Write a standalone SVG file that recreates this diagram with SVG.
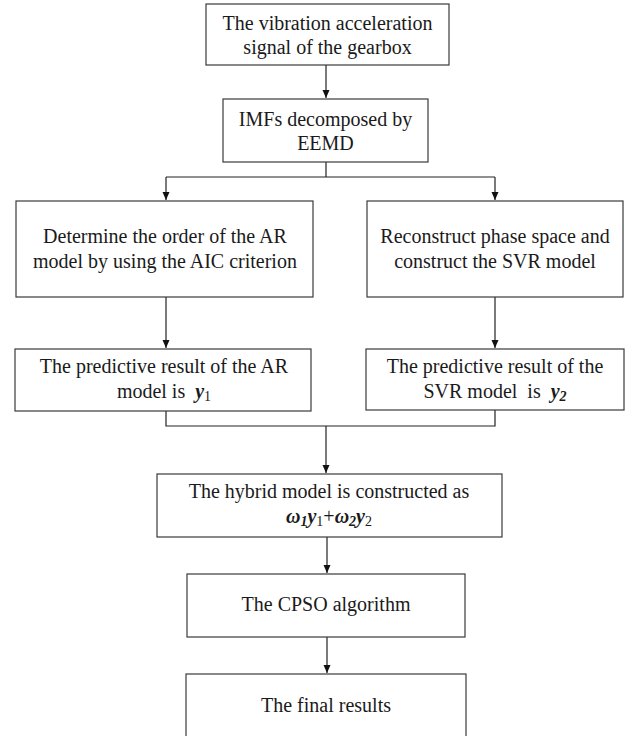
<svg xmlns="http://www.w3.org/2000/svg" width="630" height="736" viewBox="0 0 630 736">
<style>
  .box { fill: #ffffff; stroke: #3a3a3a; stroke-width: 1.2; }
  .lbl { font-family: "Liberation Serif", "Times New Roman", serif; font-size: 20px; fill: #1a1a1a; text-anchor: middle; white-space: pre; }
  .bi { font-weight: bold; font-style: italic; }
  .sub { font-size: 14px; }
  .conn { fill: none; stroke: #222222; stroke-width: 1.2; }
</style>
<defs>
  <marker id="arr" viewBox="0 0 8 8" refX="8" refY="4" markerWidth="8" markerHeight="8" markerUnits="userSpaceOnUse" orient="auto">
    <path d="M0,0.5 L8,4 L0,7.5 Z" fill="#111111"/>
  </marker>
</defs>
<rect width="630" height="736" fill="#ffffff"/>

<g id="connectors">
  <path class="conn" d="M326,65 V98" marker-end="url(#arr)"/>
  <path class="conn" d="M326,162 V177 M166,177 H495"/>
  <path class="conn" d="M166,177 V200" marker-end="url(#arr)"/>
  <path class="conn" d="M495,177 V200" marker-end="url(#arr)"/>
  <path class="conn" d="M166,297 V348" marker-end="url(#arr)"/>
  <path class="conn" d="M495,297 V348" marker-end="url(#arr)"/>
  <path class="conn" d="M166,411 V426 H495 V410"/>
  <path class="conn" d="M326,426 V473" marker-end="url(#arr)"/>
  <path class="conn" d="M327,537 V573" marker-end="url(#arr)"/>
  <path class="conn" d="M327,637 V673" marker-end="url(#arr)"/>
</g>

<g id="n1">
  <rect class="box" x="206" y="4" width="243" height="61"/>
  <text class="lbl" x="327.5" y="29.5">The vibration acceleration</text>
  <text class="lbl" x="327.5" y="53.5">signal of the gearbox</text>
</g>

<g id="n2">
  <rect class="box" x="223" y="99" width="205" height="63"/>
  <text class="lbl" x="325.5" y="126">IMFs decomposed by</text>
  <text class="lbl" x="325.5" y="149.5">EEMD</text>
</g>

<g id="n3">
  <rect class="box" x="16" y="201" width="297" height="96"/>
  <text class="lbl" x="165" y="243">Determine the order of the AR</text>
  <text class="lbl" x="165" y="268">model by using the AIC criterion</text>
</g>

<g id="n4">
  <rect class="box" x="367" y="201" width="256" height="96"/>
  <text class="lbl" x="495" y="243">Reconstruct phase space and</text>
  <text class="lbl" x="495" y="268">construct the SVR model</text>
</g>

<g id="n5">
  <rect class="box" x="15" y="349" width="296" height="62"/>
  <text class="lbl" x="164" y="373">The predictive result of the AR</text>
  <text class="lbl" x="164" y="398">model is  <tspan class="bi">y</tspan><tspan class="sub" dy="3">1</tspan></text>
</g>

<g id="n6">
  <rect class="box" x="366" y="349" width="258" height="61"/>
  <text class="lbl" x="495" y="373">The predictive result of the</text>
  <text class="lbl" x="495" y="398">SVR model  is  <tspan class="bi">y</tspan><tspan class="sub bi" dy="3">2</tspan></text>
</g>

<g id="n7">
  <rect class="box" x="157" y="474" width="345" height="63"/>
  <text class="lbl" x="329" y="498">The hybrid model is constructed as</text>
  <text class="lbl" x="329" y="523"><tspan class="bi">ω</tspan><tspan class="sub bi" dy="3">1</tspan><tspan class="bi" dy="-3">y</tspan><tspan class="sub" dy="3">1</tspan><tspan dy="-3">+</tspan><tspan class="bi">ω</tspan><tspan class="sub bi" dy="3">2</tspan><tspan class="bi" dy="-3">y</tspan><tspan class="sub" dy="3">2</tspan></text>
</g>

<g id="n8">
  <rect class="box" x="187" y="574" width="278" height="63"/>
  <text class="lbl" x="326" y="611">The CPSO algorithm</text>
</g>

<g id="n9">
  <rect class="box" x="186" y="674" width="280" height="70"/>
  <text class="lbl" x="326" y="712">The final results</text>
</g>
</svg>
